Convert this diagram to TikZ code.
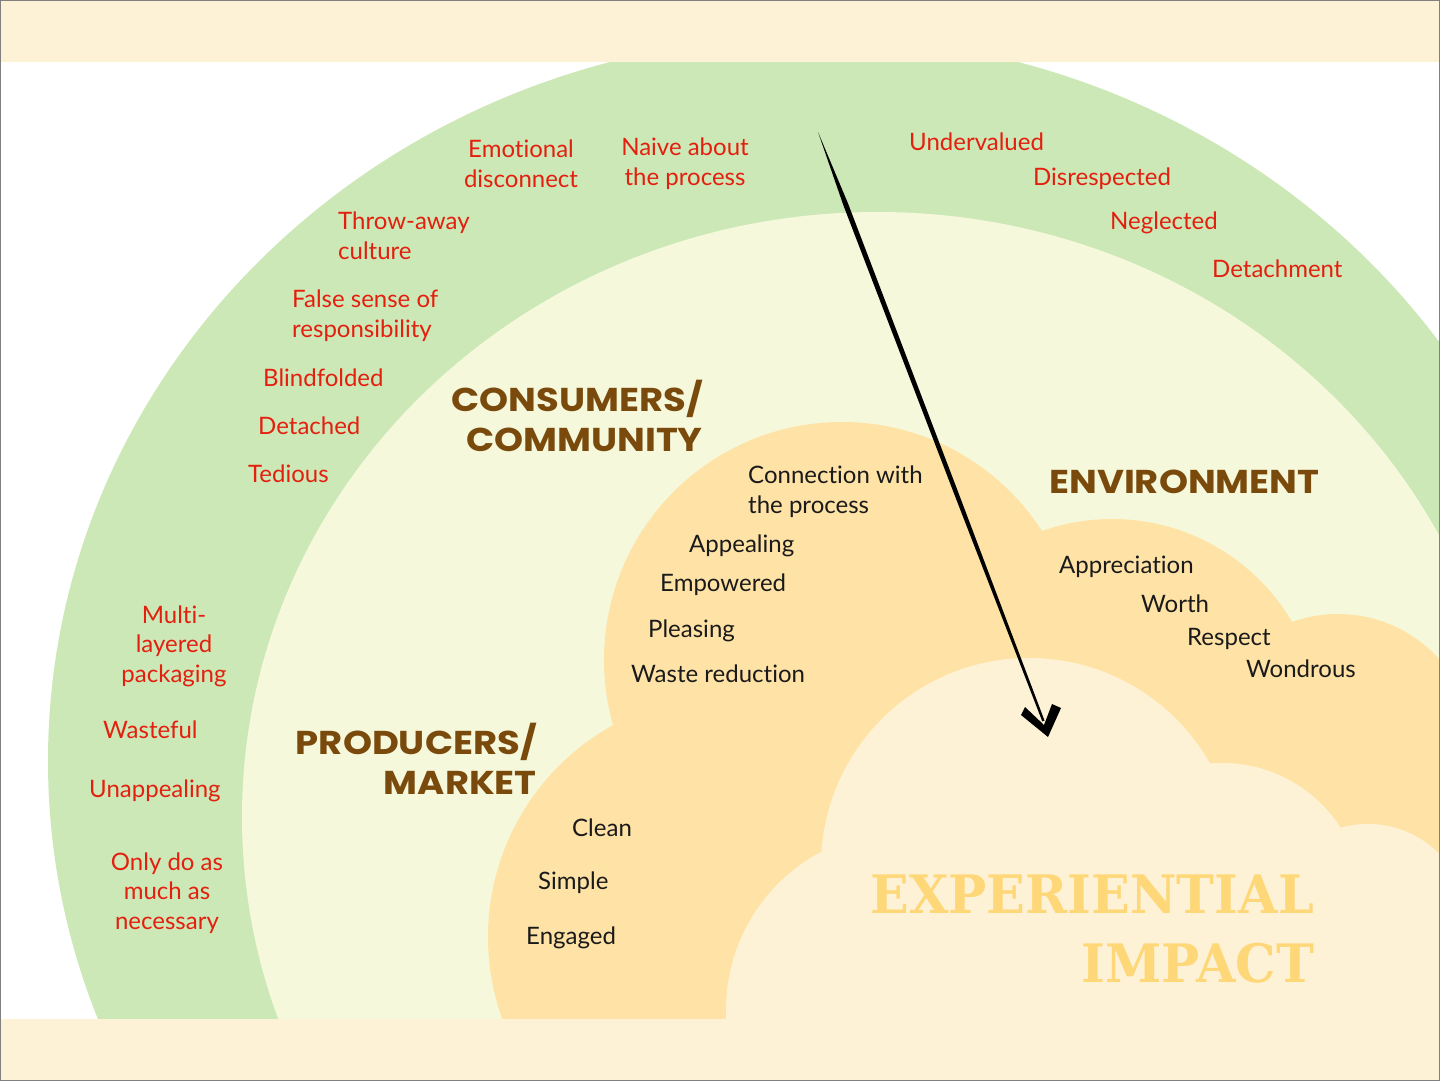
\documentclass[tikz,border=0pt]{standalone}
\usepackage{fontspec}
\usepackage{tikz}
\usetikzlibrary{calc}
\newfontfamily\bodyfont{Lato}[Ligatures={NoCommon,NoRare}]
\newfontfamily\titlefont{Poppins}
\newfontfamily\slabfont{DejaVu Serif}

\definecolor{bandcream}{HTML}{FEF2D6}
\definecolor{ringgreen}{HTML}{CDE8B7}
\definecolor{innercream}{HTML}{F5F8DB}
\definecolor{cloudorange}{HTML}{FFE3A6}
\definecolor{negred}{HTML}{E3200F}
\definecolor{headbrown}{HTML}{7A4A0D}
\definecolor{impactyellow}{HTML}{FED778}
\definecolor{posblack}{HTML}{1A1A1A}

\newcommand{\drawlobe}[4]{
    % one round bump of a cloud: x, y, radius, colour
    \fill[#4] (#1,#2) circle (#3pt);
}

\begin{document}
\begin{tikzpicture}[x=1pt,y=-1pt,
    negword/.style={text=negred, font=\bodyfont\fontsize{24}{29.5}\selectfont, inner sep=0pt},
    posword/.style={text=posblack, font=\bodyfont\fontsize{24}{30}\selectfont, inner sep=0pt},
    heading/.style={text=headbrown, font=\titlefont\bfseries\fontsize{33}{39.5}\selectfont, inner sep=0pt, xscale=1.12},
    impact/.style={text=impactyellow, font=\slabfont\bfseries\fontsize{53}{69}\selectfont, inner sep=0pt, xscale=0.96},
    brush/.style={fill=black}
]
    \useasboundingbox (0,0) rectangle (1440,1081);
    \begin{scope}
    \clip (0,0) rectangle (1440,1081);
    \fill[white] (0,0) rectangle (1440,1081);

    % outer ring and inner field
    \fill[ringgreen] (814,761) ellipse (766pt and 725pt);
    \fill[innercream] (877,817) ellipse (635pt and 605pt);

    % orange cloud
    \drawlobe{842}{660}{238}{cloudorange}
    \drawlobe{730}{937}{242}{cloudorange}
    \drawlobe{1112}{728}{209}{cloudorange}
    \drawlobe{1338}{750}{136}{cloudorange}
    \fill[cloudorange] (730,760) rectangle (1440,1019);

    % light cloud
    \drawlobe{1029}{866}{208}{bandcream}
    \drawlobe{905}{1010}{179}{bandcream}
    \drawlobe{1222}{904}{141}{bandcream}
    \drawlobe{1368}{924}{100}{bandcream}
    \fill[bandcream] (905,900) rectangle (1440,1019);

    % top and bottom bands
    \fill[bandcream] (0,0) rectangle (1440,62);
    \fill[bandcream] (0,1019) rectangle (1440,1081);
    \end{scope}

    % outer ring words (multi-line nodes sit on their last baseline)
    \draw[] node[negword, align=center, anchor=base] (emotional) at (521,187) {Emotional\\disconnect};
    \draw[] node[negword, align=center, anchor=base] (naive) at (685,185) {Naive about\\the process};
    \draw[] node[negword, align=left, anchor=base west] (throwaway) at (338,259) {Throw-away\\culture};
    \draw[] node[negword, align=left, anchor=base west] (falsesense) at (292,337) {False sense of\\responsibility};
    \draw[] node[negword, anchor=base west] (blindfolded) at (263,386) {Blindfolded};
    \draw[] node[negword, anchor=base west] (detached) at (258,434) {Detached};
    \draw[] node[negword, anchor=base west] (tedious) at (248,482) {Tedious};
    \draw[] node[negword, align=center, anchor=base] (multi) at (174,682) {Multi-\\layered\\packaging};
    \draw[] node[negword, anchor=base west] (wasteful) at (103,738) {Wasteful};
    \draw[] node[negword, anchor=base west] (unappealing) at (89,797) {Unappealing};
    \draw[] node[negword, align=center, anchor=base] (onlydo) at (167,929) {Only do as\\much as\\necessary};
    \draw[] node[negword, anchor=base west] (undervalued) at (909,150) {Undervalued};
    \draw[] node[negword, anchor=base west] (disrespected) at (1033,185) {Disrespected};
    \draw[] node[negword, anchor=base west] (neglected) at (1110,229) {Neglected};
    \draw[] node[negword, anchor=base west] (detachment) at (1212,277) {Detachment};

    % headings
    \draw[] node[heading, align=right, anchor=base east] (consumers) at (703,451) {CONSUMERS/\\COMMUNITY};
    \draw[] node[heading, anchor=base west] (environment) at (1049,493) {ENVIRONMENT};
    \draw[] node[heading, align=right, anchor=base east] (producers) at (537,794) {PRODUCERS/\\MARKET};
    \draw[] node[impact, align=right, anchor=base east] (experiential) at (1314,982) {EXPERIENTIAL\\IMPACT};

    % cloud words
    \draw[] node[posword, align=left, anchor=base west] (connection) at (748,513) {Connection with\\the process};
    \draw[] node[posword, anchor=base west] (appealing) at (689,552) {Appealing};
    \draw[] node[posword, anchor=base west] (empowered) at (660,591) {Empowered};
    \draw[] node[posword, anchor=base west] (pleasing) at (648,637) {Pleasing};
    \draw[] node[posword, anchor=base west] (waste) at (631,682) {Waste reduction};
    \draw[] node[posword, anchor=base west] (appreciation) at (1059,573) {Appreciation};
    \draw[] node[posword, anchor=base west] (worth) at (1141,612) {Worth};
    \draw[] node[posword, anchor=base west] (respect) at (1187,645) {Respect};
    \draw[] node[posword, anchor=base west] (wondrous) at (1246,677) {Wondrous};
    \draw[] node[posword, anchor=base west] (clean) at (572,836) {Clean};
    \draw[] node[posword, anchor=base west] (simple) at (538,889) {Simple};
    \draw[] node[posword, anchor=base west] (engaged) at (526,944) {Engaged};

    % brush arrow: tapered stroke, then a thick V head
    \coordinate (arrowtail) at (818,132);
    \coordinate (arrowtip) at (1048,733);
    \fill[brush] (arrowtail)
        -- ($(arrowtail)!0.12!(arrowtip)!2.5pt!90:(arrowtip)$)
        -- ($(arrowtail)!0.6!(arrowtip)!2.2pt!90:(arrowtip)$)
        -- ($(arrowtail)!0.98!(arrowtip)!1.2pt!90:(arrowtip)$)
        -- ($(arrowtail)!0.98!(arrowtip)!1.2pt!-90:(arrowtip)$)
        -- ($(arrowtail)!0.6!(arrowtip)!2.2pt!-90:(arrowtip)$)
        -- ($(arrowtail)!0.12!(arrowtip)!2.5pt!-90:(arrowtip)$)
        -- cycle;
    \fill[brush, shift={(arrowtip)}] (0,4) -- (-27,-18) -- (-23,-26) -- (-4,-8) -- (4,-29) -- (13,-25) -- cycle;

    % frame
    \draw[gray, line width=1pt] (0.5,0.5) rectangle (1439.5,1080.5);
\end{tikzpicture}
\end{document}
